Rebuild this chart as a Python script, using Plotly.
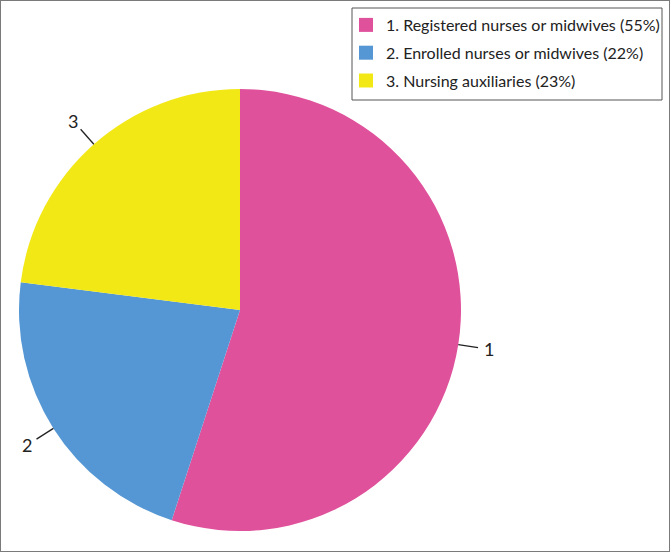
import math
import plotly.graph_objects as go

# Data
categories = ["1. Registered nurses or midwives (55%)",
              "2. Enrolled nurses or midwives (22%)",
              "3. Nursing auxiliaries (23%)"]
short_labels = ["1", "2", "3"]
values = [55, 22, 23]
colors = ["#e0519c", "#5597d4", "#f2e816"]

W, H = 670, 552
FONT = "Lato, 'Open Sans', sans-serif"

# pie geometry (paper domain)
cx_px, cy_px, r_px = 240, 310, 221
dom_x = [(cx_px - r_px) / W, (cx_px + r_px) / W]
dom_y = [1 - (cy_px + r_px) / H, 1 - (cy_px - r_px) / H]

fig = go.Figure()
fig.add_trace(go.Pie(
    labels=categories, values=values, sort=False, direction="clockwise",
    rotation=0, marker=dict(colors=colors, line=dict(width=0)),
    textinfo="none", hoverinfo="label+percent",
    domain=dict(x=dom_x, y=dom_y), showlegend=False,
))

# legend entries (one per slice) so the spacing can match
for i, (cat, col) in enumerate(zip(categories, colors)):
    fig.add_trace(go.Scatter(
        x=[None], y=[None], mode="markers", name=cat,
        marker=dict(symbol="square", size=14, color=col),
        legendgroup=f"g{i}", showlegend=True, hoverinfo="skip",
    ))

# outside labels with leader lines computed from the slice midpoints
shapes = []
annotations = []
total = sum(values)
cum = 0
for lab, v in zip(short_labels, values):
    mid = (cum + v / 2) / total
    cum += v
    ang = 2 * math.pi * mid  # clockwise from 12 o'clock
    sx, sy = math.sin(ang), -math.cos(ang)
    x0, y0 = cx_px + r_px * sx, cy_px + r_px * sy
    x1, y1 = cx_px + (r_px + 20) * sx, cy_px + (r_px + 20) * sy
    xt, yt = cx_px + (r_px + 31) * sx, cy_px + (r_px + 31) * sy
    shapes.append(dict(type="line", xref="paper", yref="paper",
                       x0=x0 / W, y0=1 - y0 / H, x1=x1 / W, y1=1 - y1 / H,
                       line=dict(color="#222222", width=1.3)))
    annotations.append(dict(text=lab, xref="paper", yref="paper",
                            x=xt / W, y=1 - yt / H, showarrow=False,
                            xanchor="center", yanchor="middle",
                            font=dict(family=FONT, size=18, color="#222222")))

# legend frame
shapes.append(dict(type="rect", xref="paper", yref="paper",
                   x0=352 / W, y0=1 - 100 / H, x1=662 / W, y1=1 - 8 / H,
                   line=dict(color="#555555", width=1), fillcolor="rgba(0,0,0,0)"))
# outer frame
shapes.append(dict(type="rect", xref="paper", yref="paper", x0=0, y0=0, x1=1, y1=1,
                   line=dict(color="#7a7a7a", width=2), fillcolor="rgba(0,0,0,0)"))

fig.update_layout(
    width=W, height=H,
    margin=dict(l=0, r=0, t=0, b=0),
    paper_bgcolor="white", plot_bgcolor="white",
    xaxis=dict(visible=False), yaxis=dict(visible=False),
    shapes=shapes, annotations=annotations,
    legend=dict(x=346 / W, y=1 - 8 / H, xanchor="left", yanchor="top",
                bgcolor="rgba(0,0,0,0)", borderwidth=0,
                font=dict(family=FONT, size=16, color="#222222"),
                tracegroupgap=4, itemwidth=30),
)

fig.write_html("out.html")
